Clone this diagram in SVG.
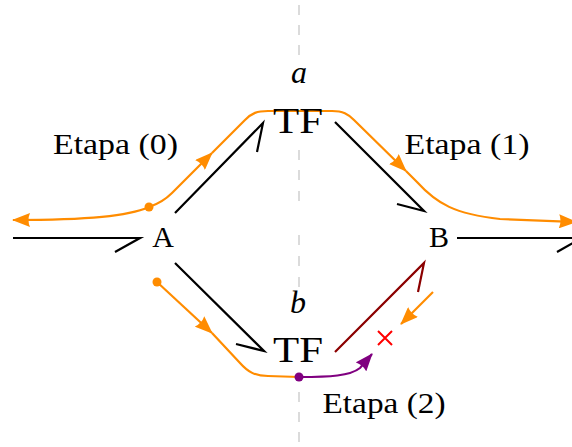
<svg xmlns="http://www.w3.org/2000/svg" width="572" height="447" viewBox="0 0 572 447">
<style>
.lbl{font-family:"Liberation Serif","Times New Roman",serif;fill:#000;text-anchor:middle}
.it{font-style:italic}
.harp{fill:none;stroke:#000;stroke-width:2.2;stroke-linejoin:miter}
.red{stroke:#8B0000}
.or{fill:none;stroke:#FF8C00;stroke-width:2.2}
.pu{fill:none;stroke:#800080;stroke-width:2.2}
.guide{fill:none;stroke:#d0d0d0;stroke-width:1.5}
</style>
<defs>
<marker id="arrO" viewBox="0 0 18 14" refX="17" refY="7" markerWidth="18" markerHeight="14" markerUnits="userSpaceOnUse" orient="auto">
<path d="M0,0 Q3,7 0,14 L18,7 z" fill="#FF8C00"/>
</marker>
<marker id="arrP" viewBox="0 0 18 14" refX="17" refY="7" markerWidth="18" markerHeight="14" markerUnits="userSpaceOnUse" orient="auto">
<path d="M0,0 Q3,7 0,14 L18,7 z" fill="#800080"/>
</marker>
</defs>
<g id="guide">
<path class="guide" d="M299,5 V15 M299,25 V35 M299,45 V55 M299,150 V160 M299,170 V180 M299,191 V201 M299,235 V245 M299,256 V266 M299,277 V287 M299,392 V402 M299,412 V422 M299,432 V442"/>
</g>
<g id="connectors">
<path class="harp" d="M13,238 L140,238 L115,252"/>
<path class="harp" d="M457,238 L582,238 L557,252"/>
<path class="harp" d="M175,213 L263,123 L257,152"/>
<path class="harp" d="M335,122 L424,211 L397,204"/>
<path class="harp" d="M175,263 L264,351 L236,344"/>
<path class="harp red" d="M335,352 L424,263 L418,292"/>
<path class="or" d="M149,207 C128,216 90,220 13,220" marker-end="url(#arrO)"/>
<path class="or" d="M149,207 C158,204 166,199 172,193 L212,153" marker-end="url(#arrO)"/>
<path class="or" d="M212,153 L245,120 C252,113 257,111 268,111 L332,111 C343,111 348,114 354,120 L406,171" marker-end="url(#arrO)"/>
<path class="or" d="M406,171 L417,182 C437,204 455,214 500,219 L576,222" marker-end="url(#arrO)"/>
<path class="or" d="M157,282 L212,333" marker-end="url(#arrO)"/>
<path class="or" d="M212,333 L240,363 C248,372 255,376 268,376 L299,377"/>
<path class="pu" d="M299,377 C330,377 350,376 360,368 L372,354" marker-end="url(#arrP)"/>
<path class="or" d="M433,292 L401,324" marker-end="url(#arrO)"/>
<path d="M378,331 L392,345 M392,331 L378,345" fill="none" stroke="#FF0000" stroke-width="2"/>
<circle cx="149" cy="207" r="4.5" fill="#FF8C00"/>
<circle cx="157" cy="282" r="4.5" fill="#FF8C00"/>
<circle cx="299" cy="377" r="4.5" fill="#800080"/>
</g>
<g id="node-A"><text class="lbl" x="163" y="247" font-size="30">A</text></g>
<g id="node-B"><text class="lbl" x="439" y="247" font-size="30">B</text></g>
<g id="node-TFa"><text class="lbl" x="298" y="133" font-size="35" textLength="50" lengthAdjust="spacingAndGlyphs">TF</text></g>
<g id="node-TFb"><text class="lbl" x="298" y="362" font-size="35" textLength="50" lengthAdjust="spacingAndGlyphs">TF</text></g>
<g id="label-a"><text class="lbl it" x="299" y="83" font-size="32">a</text></g>
<g id="label-b"><text class="lbl it" x="298" y="313" font-size="32">b</text></g>
<g id="label-e0"><text class="lbl" x="115.5" y="154" font-size="29" textLength="125" lengthAdjust="spacingAndGlyphs">Etapa (0)</text></g>
<g id="label-e1"><text class="lbl" x="467" y="154" font-size="29" textLength="125" lengthAdjust="spacingAndGlyphs">Etapa (1)</text></g>
<g id="label-e2"><text class="lbl" x="384" y="413" font-size="29" textLength="123" lengthAdjust="spacingAndGlyphs">Etapa (2)</text></g>
</svg>
